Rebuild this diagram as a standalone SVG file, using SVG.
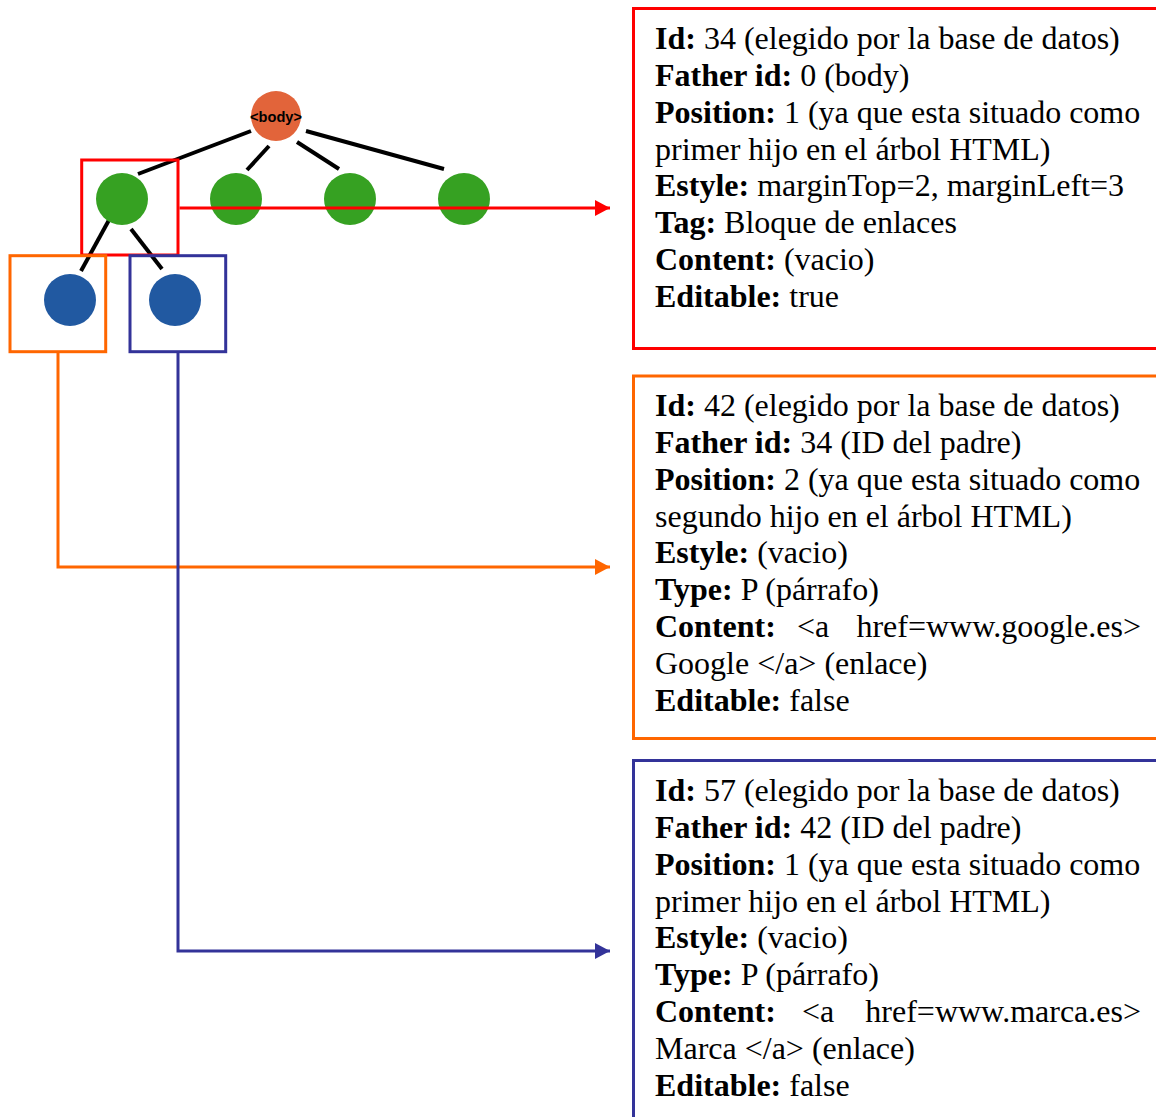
<svg xmlns="http://www.w3.org/2000/svg" width="1156" height="1117" viewBox="0 0 1156 1117">
  <style>
    .edge { stroke: #000; stroke-width: 4; stroke-linecap: butt; }
    .txt { font-family: "Liberation Serif", "Times New Roman", serif; font-size: 32px; fill: #000; }
    .b { font-weight: bold; }
    .frame { fill: none; stroke-width: 3; }
    .green { fill: #36A122; }
    .blue { fill: #2159A1; }
  </style>
  <defs>
    <marker id="arrRed" markerWidth="16" markerHeight="16" refX="15" refY="8" orient="auto" markerUnits="userSpaceOnUse">
      <path d="M0,0 L15,8 L0,16 Z" fill="#FF0000"/>
    </marker>
    <marker id="arrOrange" markerWidth="16" markerHeight="16" refX="15" refY="8" orient="auto" markerUnits="userSpaceOnUse">
      <path d="M0,0 L15,8 L0,16 Z" fill="#FF6600"/>
    </marker>
    <marker id="arrBlue" markerWidth="16" markerHeight="16" refX="15" refY="8" orient="auto" markerUnits="userSpaceOnUse">
      <path d="M0,0 L15,8 L0,16 Z" fill="#333399"/>
    </marker>
  </defs>
  <rect width="1156" height="1117" fill="#fff"/>

  <!-- tree edges -->
  <g id="tree-edges">
    <line class="edge" x1="251" y1="131" x2="138" y2="174"/>
    <line class="edge" x1="269" y1="146" x2="247" y2="170"/>
    <line class="edge" x1="297" y1="142" x2="339" y2="169"/>
    <line class="edge" x1="306" y1="131" x2="444" y2="169"/>
    <line class="edge" x1="109" y1="220" x2="81" y2="271"/>
    <line class="edge" x1="131" y1="229" x2="162" y2="269"/>
  </g>

  <!-- tree nodes -->
  <g id="node-body">
    <circle cx="276" cy="116" r="25" fill="#E2643A"/>
    <text x="276" y="122" text-anchor="middle" font-family="Liberation Sans, Arial, sans-serif" font-size="15" font-weight="bold" textLength="52" lengthAdjust="spacingAndGlyphs" fill="#000">&lt;body&gt;</text>
  </g>
  <g id="node-div1"><circle class="green" cx="122" cy="199" r="26"/></g>
  <g id="node-div2"><circle class="green" cx="236" cy="199" r="26"/></g>
  <g id="node-div3"><circle class="green" cx="350" cy="199" r="26"/></g>
  <g id="node-div4"><circle class="green" cx="464" cy="199" r="26"/></g>
  <g id="node-p1"><circle class="blue" cx="70" cy="300" r="26"/></g>
  <g id="node-p2"><circle class="blue" cx="175" cy="300" r="26"/></g>

  <!-- highlight frames around selected nodes -->
  <g id="highlight-div1"><rect class="frame" x="81.7" y="160" width="96.3" height="95" stroke="#FF0000"/></g>
  <g id="highlight-p1"><rect class="frame" x="10" y="255.7" width="95.7" height="96" stroke="#FF6600"/></g>
  <g id="highlight-p2"><rect class="frame" x="130" y="255.7" width="95.7" height="96" stroke="#333399"/></g>

  <!-- connectors from nodes to their detail cards -->
  <g id="connectors" fill="none" stroke-width="3">
    <polyline points="179.5,208 610,208" stroke="#FF0000" marker-end="url(#arrRed)"/>
    <polyline points="58,353 58,567 610,567" stroke="#FF6600" marker-end="url(#arrOrange)"/>
    <polyline points="178,353 178,951 610,951" stroke="#333399" marker-end="url(#arrBlue)"/>
  </g>

  <!-- detail card: div 34 -->
  <g id="card-34">
    <path class="frame" d="M1160,8.5 H633.5 V348.5 H1160" stroke="#FF0000"/>
    <text class="txt" x="655" y="49"><tspan class="b">Id:</tspan> 34 (elegido por la base de datos)</text>
    <text class="txt" x="655" y="85.9"><tspan class="b">Father id:</tspan> 0 (body)</text>
    <text class="txt" x="655" y="122.7"><tspan class="b">Position:</tspan> 1 (ya que esta situado como</text>
    <text class="txt" x="655" y="159.6">primer hijo en el árbol HTML)</text>
    <text class="txt" x="655" y="196.4"><tspan class="b">Estyle:</tspan> marginTop=2, marginLeft=3</text>
    <text class="txt" x="655" y="233.3"><tspan class="b">Tag:</tspan> Bloque de enlaces</text>
    <text class="txt" x="655" y="270.1"><tspan class="b">Content:</tspan> (vacio)</text>
    <text class="txt" x="655" y="307"><tspan class="b">Editable:</tspan> true</text>
  </g>

  <!-- detail card: p 42 -->
  <g id="card-42">
    <path class="frame" d="M1160,376 H633.5 V738.5 H1160" stroke="#FF6600"/>
    <text class="txt" x="655" y="416"><tspan class="b">Id:</tspan> 42 (elegido por la base de datos)</text>
    <text class="txt" x="655" y="452.9"><tspan class="b">Father id:</tspan> 34 (ID del padre)</text>
    <text class="txt" x="655" y="489.7"><tspan class="b">Position:</tspan> 2 (ya que esta situado como</text>
    <text class="txt" x="655" y="526.6">segundo hijo en el árbol HTML)</text>
    <text class="txt" x="655" y="563.4"><tspan class="b">Estyle:</tspan> (vacio)</text>
    <text class="txt" x="655" y="600.3"><tspan class="b">Type:</tspan> P (párrafo)</text>
    <text class="txt" x="655" y="637.1"><tspan class="b">Content:</tspan><tspan x="797">&lt;a</tspan><tspan x="1141" text-anchor="end">href=www.google.es&gt;</tspan></text>
    <text class="txt" x="655" y="674">Google &lt;/a&gt; (enlace)</text>
    <text class="txt" x="655" y="710.8"><tspan class="b">Editable:</tspan> false</text>
  </g>

  <!-- detail card: p 57 -->
  <g id="card-57">
    <path class="frame" d="M1160,760.5 H633.5 V1120" stroke="#333399"/>
    <text class="txt" x="655" y="801"><tspan class="b">Id:</tspan> 57 (elegido por la base de datos)</text>
    <text class="txt" x="655" y="837.9"><tspan class="b">Father id:</tspan> 42 (ID del padre)</text>
    <text class="txt" x="655" y="874.7"><tspan class="b">Position:</tspan> 1 (ya que esta situado como</text>
    <text class="txt" x="655" y="911.6">primer hijo en el árbol HTML)</text>
    <text class="txt" x="655" y="948.4"><tspan class="b">Estyle:</tspan> (vacio)</text>
    <text class="txt" x="655" y="985.3"><tspan class="b">Type:</tspan> P (párrafo)</text>
    <text class="txt" x="655" y="1022.1"><tspan class="b">Content:</tspan><tspan x="802">&lt;a</tspan><tspan x="1141" text-anchor="end">href=www.marca.es&gt;</tspan></text>
    <text class="txt" x="655" y="1059">Marca &lt;/a&gt; (enlace)</text>
    <text class="txt" x="655" y="1095.8"><tspan class="b">Editable:</tspan> false</text>
  </g>
</svg>
